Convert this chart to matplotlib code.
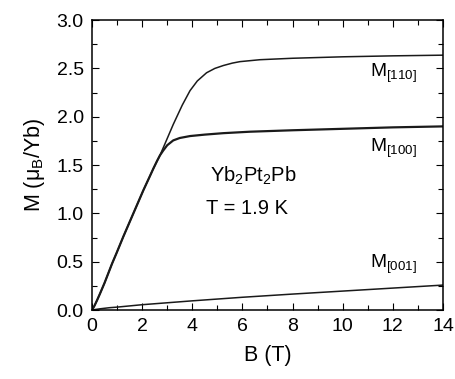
import matplotlib
matplotlib.use('Agg')
import matplotlib.pyplot as plt
from matplotlib.ticker import MultipleLocator

plt.rcParams['font.family'] = ['Liberation Sans', 'DejaVu Sans']
plt.rcParams['mathtext.fontset'] = 'custom'
plt.rcParams['mathtext.rm'] = 'Liberation Sans'
plt.rcParams['mathtext.it'] = 'Liberation Sans:italic'

# low-field part shared by [110] and [100]
b_low = [0, 0.1, 0.2, 0.32, 0.5, 0.65, 0.8, 0.98, 1.25, 1.5, 1.65, 2.05, 2.3, 2.45, 2.6, 2.71]
m_low = [0, 0.045, 0.1, 0.17, 0.28, 0.38, 0.48, 0.59, 0.76, 0.91, 1.0, 1.24, 1.38, 1.465, 1.545, 1.60]

b_110 = b_low + [2.91, 3.24, 3.6, 3.91, 4.2, 4.57, 4.9, 5.24, 5.6, 5.9, 6.7, 8, 10, 12, 14]
m_110 = m_low + [1.72, 1.92, 2.12, 2.27, 2.37, 2.455, 2.50, 2.53, 2.555, 2.57, 2.59, 2.605, 2.62, 2.63, 2.637]

b_100 = b_low + [2.84, 3.0, 3.24, 3.5, 3.91, 4.5, 5.24, 6.3, 8, 10, 12, 14]
m_100 = m_low + [1.65, 1.705, 1.755, 1.78, 1.80, 1.815, 1.83, 1.845, 1.86, 1.875, 1.89, 1.90]

b_001 = [0, 0.3, 0.7, 1, 2, 3, 4, 6, 8, 10, 12, 14]
m_001 = [0, 0.012, 0.024, 0.03, 0.055, 0.075, 0.095, 0.132, 0.165, 0.196, 0.227, 0.258]

fig = plt.figure(figsize=(4.55, 3.79), dpi=100)
ax = fig.add_axes([0.2022, 0.182, 0.7714, 0.765])

ax.plot(b_110, m_110, color='#1a1a1a', lw=1.1)
ax.plot(b_100, m_100, color='#1a1a1a', lw=1.6)
ax.plot(b_001, m_001, color='#1a1a1a', lw=1.1)

ax.text(11.09, 2.41, r'M$_{[110]}$', fontsize=13.8)
ax.text(11.09, 1.63, r'M$_{[100]}$', fontsize=13.8)
ax.text(11.09, 0.43, r'M$_{[001]}$', fontsize=13.8)
ax.text(4.7, 1.33, r'Yb$_2$Pt$_2$Pb', fontsize=14.5)
ax.text(4.55, 0.99, 'T = 1.9 K', fontsize=14.5)

ax.set_xlim(0, 14)
ax.set_ylim(0, 3.0)
ax.xaxis.set_major_locator(MultipleLocator(2))
ax.xaxis.set_minor_locator(MultipleLocator(1))
ax.yaxis.set_major_locator(MultipleLocator(0.5))
ax.yaxis.set_minor_locator(MultipleLocator(0.25))
ax.yaxis.set_major_formatter(matplotlib.ticker.FormatStrFormatter('%.1f'))
ax.tick_params(which='both', direction='in', top=True, right=True, width=0.8, labelsize=14, pad=6)
ax.tick_params(which='major', length=5)
ax.tick_params(which='minor', length=3.5)
for s in ax.spines.values():
    s.set_linewidth(1.1)

ax.set_xlabel('B (T)', fontsize=15.5, labelpad=7)
ax.set_ylabel(r'M (μ$_\mathrm{B}$/Yb)', fontsize=15.5, labelpad=7)

fig.savefig('out.png', dpi=100)
